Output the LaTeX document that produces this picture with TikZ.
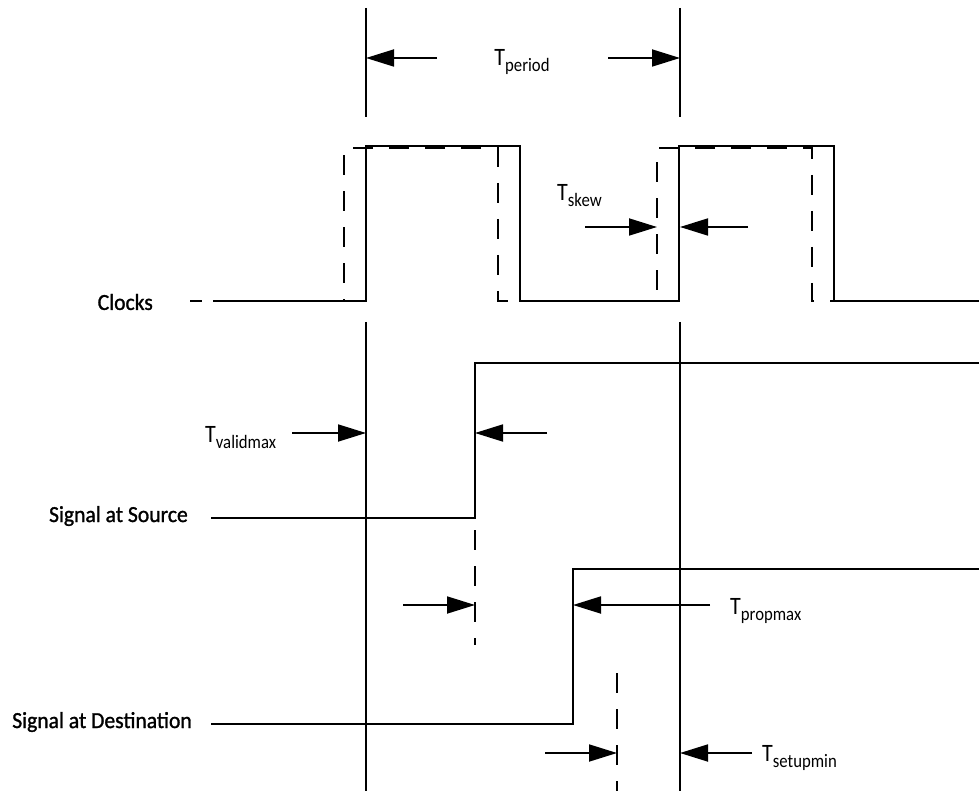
\documentclass[tikz,border=0pt]{standalone}
\usepackage{fontspec}
\setmainfont{Carlito}
\newfontfamily\namefont[FakeStretch=0.94,FakeBold=1.2]{Carlito}
\newfontfamily\tfont[FakeStretch=0.88]{Carlito}
\usetikzlibrary{arrows.meta}
\newcommand\Tlab[1]{{\fontsize{25}{25}\selectfont T}\raisebox{-6pt}{\fontsize{19}{19}\selectfont #1}}
\tikzset{
  sig/.style={line width=1.8pt, line join=miter},
  dsig/.style={sig, dash pattern=on 20pt off 16pt},
  meas/.style={line width=1.8pt, -{Triangle[length=28pt,width=17pt]}},
  namelab/.style={font=\namefont\fontsize{23}{23}\selectfont, anchor=east, inner sep=0pt},
  tlab/.style={font=\tfont, anchor=base west, inner sep=0pt}
}
\begin{document}
\begin{tikzpicture}[x=1pt,y=-1pt]
\useasboundingbox (0,0) rectangle (979,791);
% reference vertical lines
\coordinate (vAt) at (366,8);   \coordinate (vAm) at (366,117);
\coordinate (vBt) at (680,8);   \coordinate (vBm) at (680,117);
\coordinate (vAl) at (366,322); \coordinate (vAb) at (366,791);
\coordinate (vBl) at (680,322); \coordinate (vBb) at (680,791);
\draw[sig] (vAt) -- (vAm);
\draw[sig] (vBt) -- (vBm);
\draw[sig] (vAl) -- (vAb);
\draw[sig] (vBl) -- (vBb);
% T period
\node[tlab, anchor=base] (tper) at (522,66) {\Tlab{period}};
\coordinate (pL) at (437,58); \coordinate (pLt) at (366,58);
\coordinate (pR) at (608,58); \coordinate (pRt) at (680,58);
\draw[meas] (pL) -- (pLt);
\draw[meas] (pR) -- (pRt);
% clocks
\node[namelab] (clk) at (153,302) {Clocks};
\draw[dsig, dash phase=8pt] (190,301) -- (344,301) -- (344,148) -- (498,148) -- (498,301) -- (657,301) -- (657,148) -- (812,148) -- (812,301) -- (979,301);
\draw[sig] (213,301) -- (366,301) -- (366,146) -- (520,146) -- (520,301) -- (679,301) -- (679,146) -- (834,146) -- (834,301) -- (979,301);
% T skew
\node[tlab] (tskew) at (557,201) {\Tlab{skew}};
\coordinate (sL) at (585,227); \coordinate (sLt) at (657,227);
\coordinate (sR) at (748,227); \coordinate (sRt) at (680,227);
\draw[meas] (sL) -- (sLt);
\draw[meas] (sR) -- (sRt);
% signal at source
\node[namelab] (src) at (188,516) {Signal at Source};
\draw[sig] (211,518) -- (475,518) -- (475,363) -- (979,363);
\node[tlab] (tval) at (205,442) {\Tlab{validmax}};
\coordinate (vL) at (292,433); \coordinate (vLt) at (366,433);
\coordinate (vR) at (547,433); \coordinate (vRt) at (475,433);
\draw[meas] (vL) -- (vLt);
\draw[meas] (vR) -- (vRt);
\coordinate (dsT) at (475,530); \coordinate (dsB) at (475,645);
\draw[dsig] (dsT) -- (dsB);
\coordinate (qL) at (403,605); \coordinate (qLt) at (475,605);
\draw[meas] (qL) -- (qLt);
% signal at destination
\node[namelab] (dst) at (192,722) {Signal at Destination};
\draw[sig] (211,724) -- (573,724) -- (573,569) -- (979,569);
\node[tlab] (tprop) at (730,614) {\Tlab{propmax}};
\coordinate (rR) at (710,605); \coordinate (rRt) at (573,605);
\draw[meas] (rR) -- (rRt);
\coordinate (ddT) at (617,673); \coordinate (ddB) at (617,791);
\draw[dsig] (ddT) -- (ddB);
\coordinate (uL) at (545,753); \coordinate (uLt) at (617,753);
\coordinate (uR) at (752,753); \coordinate (uRt) at (680,753);
\draw[meas] (uL) -- (uLt);
\draw[meas] (uR) -- (uRt);
\node[tlab] (tsetup) at (762,761) {\Tlab{setupmin}};
\end{tikzpicture}
\end{document}
